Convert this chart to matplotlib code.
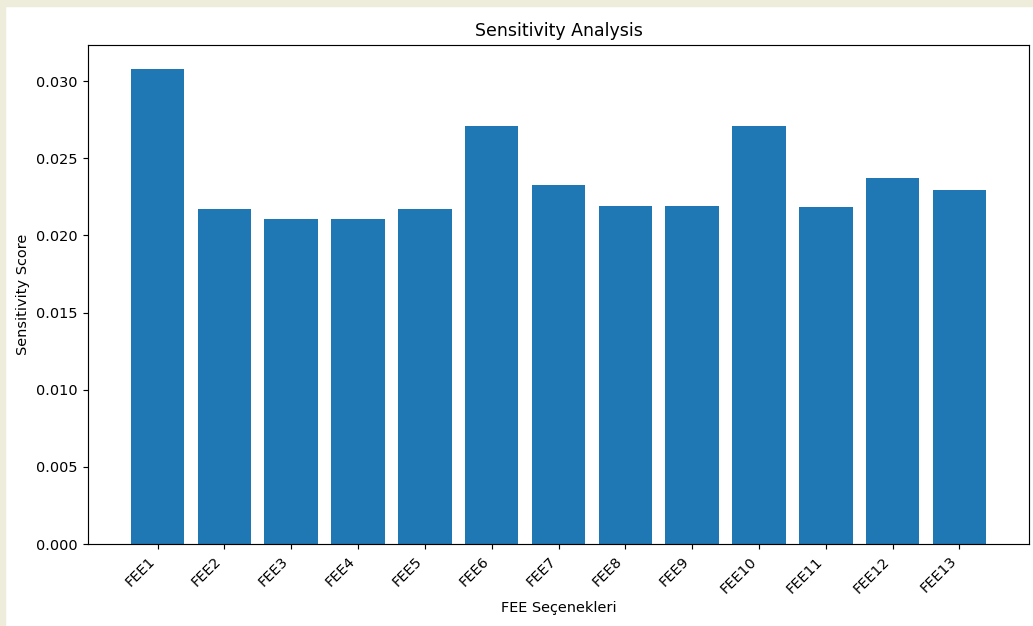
import matplotlib
matplotlib.use("Agg")
import matplotlib.pyplot as plt
from matplotlib.patches import Rectangle

options = ["FEE1", "FEE2", "FEE3", "FEE4", "FEE5", "FEE6", "FEE7",
           "FEE8", "FEE9", "FEE10", "FEE11", "FEE12", "FEE13"]
scores = [0.03080, 0.02171, 0.02106, 0.02106, 0.02171, 0.02708, 0.02324,
          0.02188, 0.02188, 0.02708, 0.02183, 0.02369, 0.02296]

W, H = 1033, 626
DPI = 104.4  # reference looks slightly upscaled from a 100 dpi render

fig = plt.figure(figsize=(W / DPI, H / DPI), dpi=DPI)
# beige frame strips along the top and left edge
fig.add_artist(Rectangle((0, 1 - 6 / H), 1, 6 / H, transform=fig.transFigure,
                         color="#eeecdb", zorder=-1))
fig.add_artist(Rectangle((0, 0), 5 / W, 1, transform=fig.transFigure,
                         color="#eeecdb", zorder=-1))

ax = fig.add_axes([88 / W, 1 - 544 / H, (1029 - 88) / W, (544 - 45) / H])
ax.bar(options, scores, color="#1f77b4")
ax.set_title("Sensitivity Analysis")
ax.set_xlabel("FEE Seçenekleri")
ax.set_ylabel("Sensitivity Score")
plt.setp(ax.get_xticklabels(), rotation=45, ha="right")

fig.savefig("out.png", dpi=DPI)
